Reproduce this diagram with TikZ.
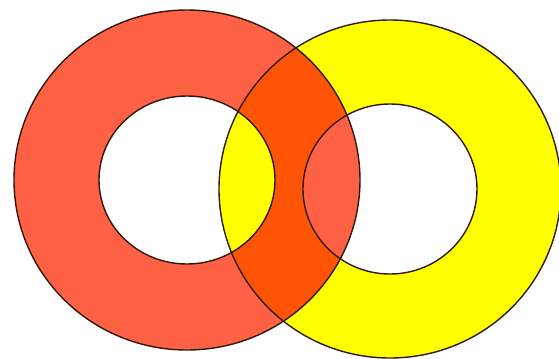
\documentclass[tikz,border=0pt]{standalone}
\usepackage{tikz}
\usetikzlibrary{calc}
\definecolor{ringred}{RGB}{255,97,68}
\definecolor{ringyellow}{RGB}{255,255,0}
\definecolor{ringoverlap}{RGB}{255,84,6}
\definecolor{ringedge}{RGB}{50,25,15}

\begin{document}
\begin{tikzpicture}[x=0.02cm,y=-0.02cm]

% Frame
\useasboundingbox (0,0) rectangle (559,359);

% Centres
\coordinate (redc) at (187,180);
\coordinate (yelc) at (390,189);

% Red ring
\fill[ringred, even odd rule]
  (redc) ellipse [x radius=173, y radius=170]
  (redc) ellipse [x radius=88, y radius=84];

% Yellow ring
\fill[ringyellow, even odd rule]
  (yelc) ellipse [x radius=171, y radius=169]
  (yelc) ellipse [x radius=87, y radius=85];

% Where the rings cross
\begin{scope}[even odd rule]
  \clip
    (redc) ellipse [x radius=173, y radius=170]
    (redc) ellipse [x radius=88, y radius=84];
  \fill[ringoverlap]
    (yelc) ellipse [x radius=171, y radius=169]
    (yelc) ellipse [x radius=87, y radius=85];
\end{scope}

% Outlines
\draw[ringedge, line width=0.8pt]
  (redc) ellipse [x radius=173, y radius=170]
  (redc) ellipse [x radius=88, y radius=84];
\draw[ringedge, line width=0.8pt]
  (yelc) ellipse [x radius=171, y radius=169]
  (yelc) ellipse [x radius=87, y radius=85];

\end{tikzpicture}
\end{document}
